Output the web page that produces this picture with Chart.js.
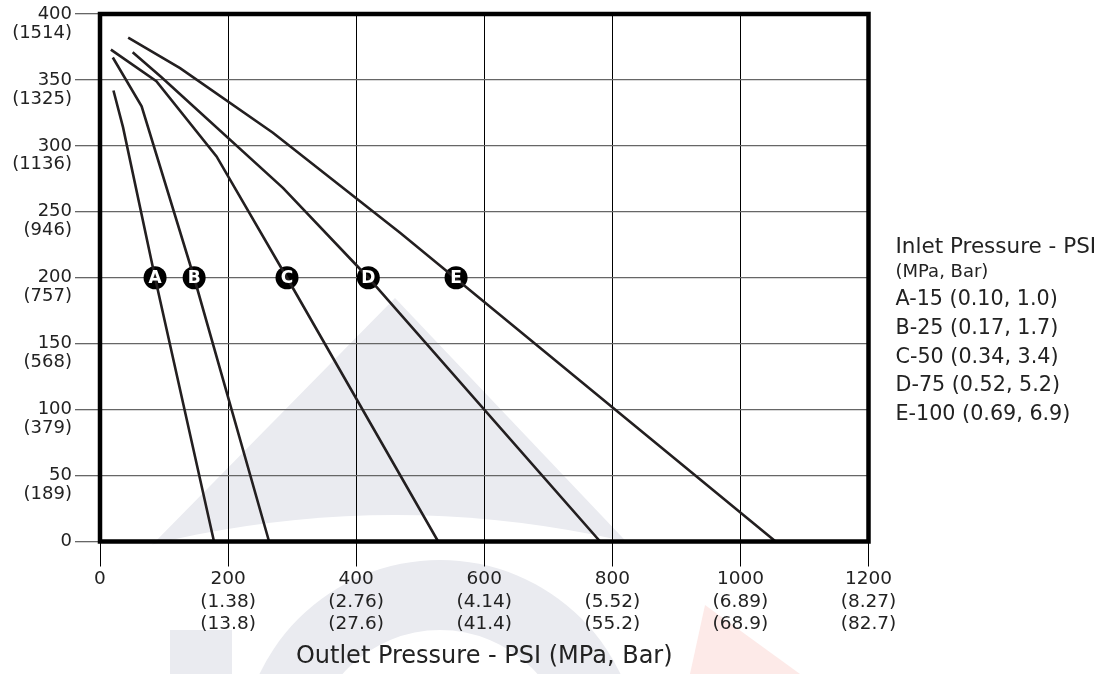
<!DOCTYPE html>
<html>
<head>
<meta charset="utf-8">
<script src="https://cdn.jsdelivr.net/npm/chart.js@4.4.1/dist/chart.umd.min.js"></script>
<style>
  html, body { margin: 0; padding: 0; background: #fff; }
  #wrap { width: 1117px; height: 674px; }
</style>
</head>
<body>
<div id="wrap"><canvas id="chart" width="1117" height="674"></canvas></div>
<script>
// outlet pressure (psi) / flow for each inlet pressure curve
const aOutlet = [21, 36, 86, 178];
const aFlow = [342, 314, 200, 0];
const bOutlet = [20, 65, 147, 264];
const bFlow = [367, 330, 200, 0];
const cOutlet = [17, 88, 182, 292, 528];
const cFlow = [373, 349, 292, 200, 0];
const dOutlet = [51, 96, 286, 419, 781];
const dFlow = [371, 352, 268, 200, 0];
const eOutlet = [44, 125, 270, 469, 1055];
const eFlow = [382, 359, 310, 234, 0];

// circled letters sitting on the curves
const markerNames = ["A", "B", "C", "D", "E"];
const markerX = [86, 147, 292, 419, 556];
const markerY = [200, 200, 200, 200, 200];

// tick labels
const yTicks = [0, 50, 100, 150, 200, 250, 300, 350, 400];
const yTicks2 = ["", "(189)", "(379)", "(568)", "(757)", "(946)", "(1136)", "(1325)", "(1514)"];
const xTicks = [0, 200, 400, 600, 800, 1000, 1200];
const xTicksMpa = ["", "(1.38)", "(2.76)", "(4.14)", "(5.52)", "(6.89)", "(8.27)"];
const xTicksBar = ["", "(13.8)", "(27.6)", "(41.4)", "(55.2)", "(68.9)", "(82.7)"];

const legendTitle = "Inlet Pressure - PSI";
const legendSub = "(MPa, Bar)";
const legendItems = ["A-15 (0.10, 1.0)", "B-25 (0.17, 1.7)", "C-50 (0.34, 3.4)", "D-75 (0.52, 5.2)", "E-100 (0.69, 6.9)"];
const xTitle = "Outlet Pressure - PSI (MPa, Bar)";

function toPoints(xs, ys) {
  let pts = [];
  for (let i = 0; i < xs.length; i++) {
    pts.push({ x: xs[i], y: ys[i] });
  }
  return pts;
}

function curve(xs, ys) {
  return {
    data: toPoints(xs, ys),
    showLine: true,
    borderColor: "#231f20",
    borderWidth: 2.6,
    pointRadius: 0,
    tension: 0
  };
}

Chart.defaults.font.family = "'DejaVu Sans', sans-serif";
Chart.defaults.color = "#222";

// faint logo behind the plot
const watermark = {
  id: "watermark",
  beforeDraw(chart) {
    let ctx = chart.ctx;
    ctx.save();
    ctx.fillStyle = "#eaebf0";
    ctx.beginPath();
    ctx.moveTo(395, 298);
    ctx.lineTo(25, 674);
    ctx.lineTo(752, 674);
    ctx.closePath();
    ctx.fill();
    // white arch cut out of the triangle
    ctx.fillStyle = "#fff";
    ctx.beginPath();
    ctx.arc(395, 1530, 1015, 0, Math.PI * 2);
    ctx.fill();
    // lower ring
    ctx.fillStyle = "#eaebf0";
    ctx.beginPath();
    ctx.arc(440, 760, 200, Math.PI, Math.PI * 2);
    ctx.arc(440, 760, 130, Math.PI * 2, Math.PI, true);
    ctx.closePath();
    ctx.fill();
    ctx.fillRect(170, 630, 62, 44);
    // small red piece
    ctx.fillStyle = "#fdeae8";
    ctx.beginPath();
    ctx.moveTo(705, 605);
    ctx.lineTo(690, 674);
    ctx.lineTo(800, 674);
    ctx.closePath();
    ctx.fill();
    ctx.restore();
  }
};

// frame, letters in circles, legend text and x title
const extras = {
  id: "extras",
  afterDatasetsDraw(chart) {
    let ctx = chart.ctx;
    let a = chart.chartArea;
    ctx.save();
    ctx.strokeStyle = "#000";
    ctx.lineWidth = 4.5;
    ctx.strokeRect(a.left, a.top, a.right - a.left, a.bottom - a.top);

    let meta = chart.getDatasetMeta(5);
    ctx.fillStyle = "#fff";
    ctx.font = "bold 17px 'DejaVu Sans', sans-serif";
    ctx.textAlign = "center";
    ctx.textBaseline = "middle";
    for (let i = 0; i < meta.data.length; i++) {
      let p = meta.data[i];
      ctx.fillText(markerNames[i], p.x, p.y + 1);
    }

    ctx.fillStyle = "#222";
    ctx.textAlign = "left";
    let lx = a.right + 27;
    ctx.font = "21.5px 'DejaVu Sans', sans-serif";
    ctx.fillText(legendTitle, lx, 247);
    ctx.font = "18px 'DejaVu Sans', sans-serif";
    ctx.fillText(legendSub, lx, 272);
    ctx.font = "20.7px 'DejaVu Sans', sans-serif";
    for (let i = 0; i < legendItems.length; i++) {
      ctx.fillText(legendItems[i], lx, 300 + i * 28.7);
    }

    ctx.textAlign = "center";
    ctx.font = "24px 'DejaVu Sans', sans-serif";
    ctx.fillText(xTitle, (a.left + a.right) / 2, 657);
    ctx.restore();
  }
};

let ctx = document.getElementById("chart").getContext("2d");
let myChart = new Chart(ctx, {
  type: "scatter",
  data: {
    datasets: [
      curve(aOutlet, aFlow),
      curve(bOutlet, bFlow),
      curve(cOutlet, cFlow),
      curve(dOutlet, dFlow),
      curve(eOutlet, eFlow),
      {
        data: toPoints(markerX, markerY),
        pointRadius: 11.5,
        pointBackgroundColor: "#000",
        pointBorderWidth: 0,
        showLine: false
      }
    ]
  },
  options: {
    responsive: false,
    devicePixelRatio: 1,
    animation: false,
    layout: { padding: { top: 14, right: 248.5, left: 0, bottom: 0 } },
    plugins: { legend: { display: false }, tooltip: { enabled: false } },
    scales: {
      x: {
        type: "linear",
        min: 0,
        max: 1200,
        afterBuildTicks(axis) {
          axis.ticks = xTicks.map(v => ({ value: v }));
        },
        afterFit(axis) {
          axis.height = 132.5;
          axis.paddingLeft = 0;
          axis.paddingRight = 0;
        },
        ticks: {
          font: { size: 18.5 },
          padding: 2,
          maxRotation: 0,
          autoSkip: false,
          callback: function (value) {
            let i = xTicks.indexOf(value);
            if (i <= 0) return String(value);
            return [String(value), xTicksMpa[i], xTicksBar[i]];
          }
        },
        grid: { color: "#000", lineWidth: 1, tickLength: 25 },
        border: { display: false }
      },
      y: {
        type: "linear",
        min: 0,
        max: 400,
        afterBuildTicks(axis) {
          axis.ticks = yTicks.map(v => ({ value: v }));
        },
        afterFit(axis) {
          axis.width = 100;
          axis.paddingTop = 0;
          axis.paddingBottom = 0;
        },
        ticks: {
          font: { size: 18, lineHeight: 1.05 },
          padding: 3,
          autoSkip: false,
          callback: function (value) {
            let i = yTicks.indexOf(value);
            if (i <= 0) return String(value);
            return ["", String(value), yTicks2[i]];
          }
        },
        grid: { color: "#666", lineWidth: 1.3, tickLength: 25 },
        border: { display: false }
      }
    }
  },
  plugins: [watermark, extras]
});
</script>
</body>
</html>
